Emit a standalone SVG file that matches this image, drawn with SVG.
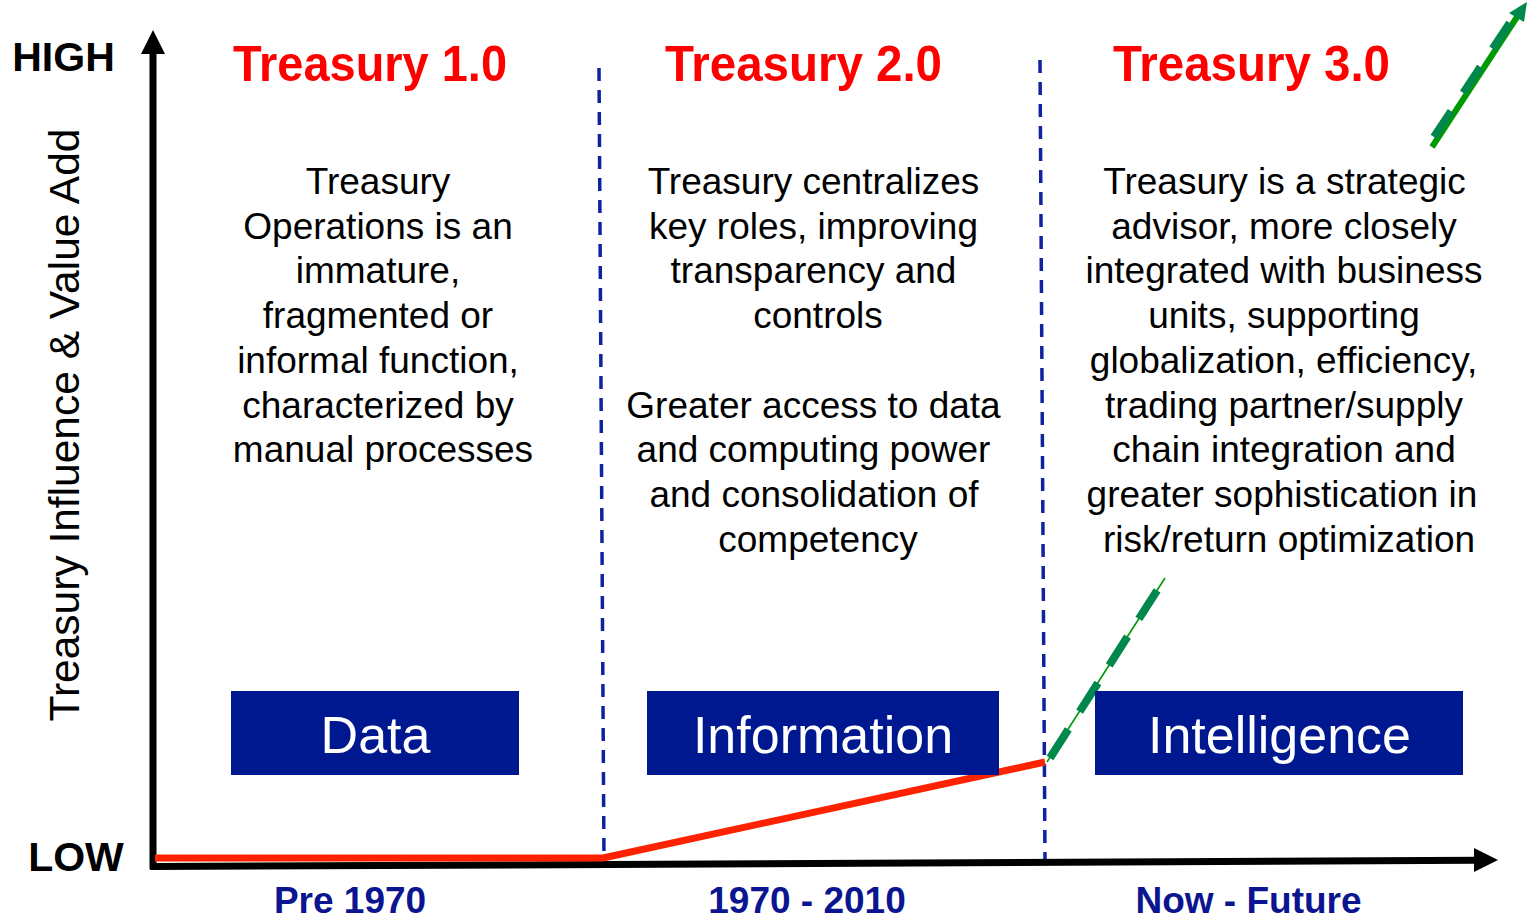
<svg xmlns="http://www.w3.org/2000/svg" width="1527" height="918" viewBox="0 0 1527 918">
<style>
  text { font-family: "Liberation Sans", Arial, sans-serif; }
  .title { font-size: 50px; font-weight: bold; fill: #ff0000; text-anchor: middle; }
  .body { font-size: 37px; fill: #000; text-anchor: middle; }
  .box { fill: #00188f; }
  .boxtext { font-size: 52px; fill: #ffffff; text-anchor: middle; }
  .era { font-size: 37px; font-weight: bold; fill: #0b1590; text-anchor: middle; }
  .level { font-size: 41px; font-weight: bold; fill: #000; text-anchor: middle; }
  .divider { stroke: #0f22a0; stroke-width: 3.5; stroke-dasharray: 13 9; fill: none; }
  .axis { stroke: #000; stroke-width: 7; fill: none; }
  .trend { stroke: #ff2200; stroke-width: 7; fill: none; stroke-linejoin: round; }
  .gthin { stroke: #009900; fill: none; }
  .gdash { stroke: #00884c; stroke-width: 8; fill: none; }
</style>
<rect width="1527" height="918" fill="#ffffff"/>

<g id="connectors">
  <line class="divider" x1="599" y1="68" x2="604" y2="862"/>
  <line class="divider" x1="1040" y1="60" x2="1045" y2="860"/>
  <line class="axis" x1="153" y1="869" x2="153" y2="50"/>
  <polygon points="153,30 141,54 165,54" fill="#000"/>
  <line class="axis" x1="150" y1="866.6" x2="1478" y2="860.3"/>
  <polygon points="1498,860 1474,848 1474,872" fill="#000"/>
  <polyline class="trend" points="155,858 603,858 1045,762"/>
  <line class="gthin" stroke-width="1.6" x1="1047" y1="762" x2="1165" y2="578"/>
  <line class="gdash" stroke-width="7" stroke-dasharray="34 21" x1="1050" y1="758" x2="1165" y2="578"/>
  <line class="gthin" stroke-width="6" x1="1432" y1="147" x2="1517" y2="17"/>
  <line class="gdash" stroke-dasharray="31 22" x1="1434" y1="137" x2="1517" y2="12"/>
  <polygon points="1527,2 1524,22 1509,13" fill="#00884c"/>
</g>

<g id="axis-labels">
  <text class="level" x="63.5" y="71">HIGH</text>
  <text class="level" x="76" y="871">LOW</text>
  <text x="0" y="0" font-size="42.5" text-anchor="middle" transform="translate(79,425) rotate(-90)">Treasury Influence &amp; Value Add</text>
</g>

<g id="treasury-1">
  <text class="title" x="370" y="81" textLength="274" lengthAdjust="spacingAndGlyphs">Treasury 1.0</text>
  <text class="body" x="378" y="194">Treasury</text>
  <text class="body" x="378" y="238.7">Operations is an</text>
  <text class="body" x="378" y="283.4">immature,</text>
  <text class="body" x="378" y="328.1">fragmented or</text>
  <text class="body" x="378" y="372.8">informal function,</text>
  <text class="body" x="378" y="417.5">characterized by</text>
  <text class="body" x="383" y="462.2">manual processes</text>
</g>

<g id="treasury-2">
  <text class="title" x="803.5" y="81" textLength="277" lengthAdjust="spacingAndGlyphs">Treasury 2.0</text>
  <text class="body" x="813.5" y="194">Treasury centralizes</text>
  <text class="body" x="813.5" y="238.7">key roles, improving</text>
  <text class="body" x="813.5" y="283.4">transparency and</text>
  <text class="body" x="818" y="328.1">controls</text>
  <text class="body" x="813.5" y="417.5">Greater access to data</text>
  <text class="body" x="813.5" y="462.2">and computing power</text>
  <text class="body" x="814" y="506.9">and consolidation of</text>
  <text class="body" x="818" y="551.6">competency</text>
</g>

<g id="treasury-3">
  <text class="title" x="1251.5" y="81" textLength="277" lengthAdjust="spacingAndGlyphs">Treasury 3.0</text>
  <text class="body" x="1284.5" y="194">Treasury is a strategic</text>
  <text class="body" x="1284" y="238.7">advisor, more closely</text>
  <text class="body" x="1284" y="283.4">integrated with business</text>
  <text class="body" x="1284" y="328.1">units, supporting</text>
  <text class="body" x="1283.5" y="372.8">globalization, efficiency,</text>
  <text class="body" x="1284" y="417.5">trading partner/supply</text>
  <text class="body" x="1284" y="462.2">chain integration and</text>
  <text class="body" x="1282" y="506.9">greater sophistication in</text>
  <text class="body" x="1289" y="551.6">risk/return optimization</text>
</g>

<g id="box-data">
  <rect class="box" x="231" y="691" width="288" height="84"/>
  <text class="boxtext" x="375.5" y="753">Data</text>
</g>
<g id="box-information">
  <rect class="box" x="647" y="691" width="352" height="84"/>
  <text class="boxtext" x="823" y="753">Information</text>
</g>
<g id="box-intelligence">
  <rect class="box" x="1095" y="691" width="368" height="84"/>
  <text class="boxtext" x="1279.5" y="753">Intelligence</text>
</g>

<g id="eras">
  <text class="era" x="350" y="913">Pre 1970</text>
  <text class="era" x="807" y="913">1970 - 2010</text>
  <text class="era" x="1248.5" y="913">Now - Future</text>
</g>
</svg>
